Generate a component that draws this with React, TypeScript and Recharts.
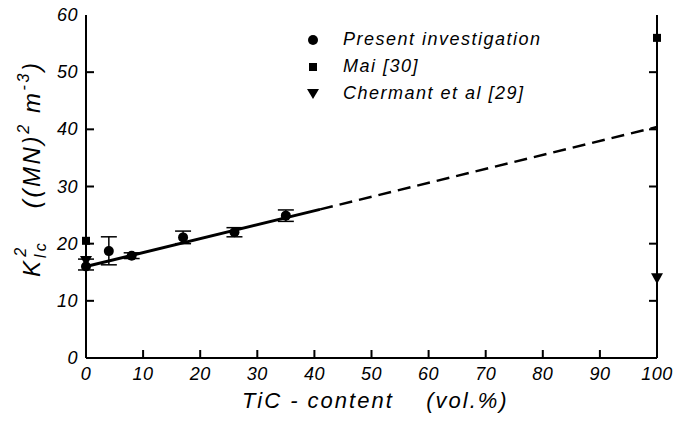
import React from "react";
import {
  ComposedChart,
  Scatter,
  Line,
  XAxis,
  YAxis,
  ErrorBar,
  ReferenceLine,
} from "recharts";

// TiC content (vol.%) and K_Ic^2 values
const presentX = [0, 4, 8, 17, 26, 35];
const presentY = [16.0, 18.7, 17.9, 21.1, 22.0, 24.9];
const presentErr = [
  [0.6, 1.3],
  [2.4, 2.5],
  [0.5, 0.5],
  [1.1, 1.1],
  [0.8, 0.8],
  [1.0, 1.0],
];
const maiX = [0, 100];
const maiY = [20.5, 56];
const chermantX = [0, 100];
const chermantY = [17.0, 14];

// fitted line: solid over the measured range, dashed extrapolation
const fitSolidX = [0, 41];
const fitSolidY = [16.0, 26.0];
const fitDashX = [41, 100];
const fitDashY = [26.0, 40.4];

const xTicks = [0, 10, 20, 30, 40, 50, 60, 70, 80, 90, 100];
const yTicks = [0, 10, 20, 30, 40, 50, 60];

const legendItems = ["Present investigation", "Mai [30]", "Chermant et al [29]"];

const present = presentX.map((x, i) => ({ x, y: presentY[i], err: presentErr[i] }));
const mai = maiX.map((x, i) => ({ x, y: maiY[i] }));
const chermant = chermantX.map((x, i) => ({ x, y: chermantY[i] }));
const fitSolid = fitSolidX.map((x, i) => ({ x, y: fitSolidY[i] }));
const fitDash = fitDashX.map((x, i) => ({ x, y: fitDashY[i] }));

// inner tick positions on the frame (end ticks coincide with the corners)
const bottomMarks = xTicks.slice(1, -1).map((t) => ({ x: t, y: 0 }));
const leftMarks = yTicks.slice(1, -1).map((t) => ({ x: 0, y: t }));
const rightMarks = yTicks.slice(1, -1).map((t) => ({ x: 100, y: t }));

const FONT = "'Liberation Sans', Arial, sans-serif";
const INK = "#000";
const axisLine = { stroke: INK, strokeWidth: 2 };
const TICK_LEN = 8;

const XTick = (props: any) => {
  const { x, y, payload } = props;
  return (
    <text
      x={x}
      y={y + 22}
      textAnchor="middle"
      fontSize={18}
      fontStyle="italic"
      fontFamily={FONT}
      letterSpacing={0.5}
      fill={INK}
    >
      {payload.value}
    </text>
  );
};

const YTick = (props: any) => {
  const { x, y, payload } = props;
  return (
    <text
      x={x - 8}
      y={y + 6}
      textAnchor="end"
      fontSize={18}
      fontStyle="italic"
      fontFamily={FONT}
      letterSpacing={0.5}
      fill={INK}
    >
      {payload.value}
    </text>
  );
};

// tick marks pointing into the plot, drawn as 2px filled rects
const UpMark = (p: any) => (
  <rect x={p.cx - 1} y={p.cy - TICK_LEN} width={2} height={TICK_LEN} fill={INK} />
);
const RightMark = (p: any) => (
  <rect x={p.cx} y={p.cy - 1} width={TICK_LEN} height={2} fill={INK} />
);
const LeftMark = (p: any) => (
  <rect x={p.cx - TICK_LEN} y={p.cy - 1} width={TICK_LEN} height={2} fill={INK} />
);

const Triangle = (props: any) => {
  const { cx, cy } = props;
  const s = 6;
  return (
    <path
      d={`M${cx - s},${cy - s * 0.8} L${cx + s},${cy - s * 0.8} L${cx},${cy + s} Z`}
      fill={INK}
    />
  );
};

const Square = (props: any) => {
  const { cx, cy } = props;
  return <rect x={cx - 4} y={cy - 4} width={8} height={8} fill={INK} />;
};

const Dot = (props: any) => {
  const { cx, cy } = props;
  return <circle cx={cx} cy={cy} r={5} fill={INK} />;
};

const YLabel = () => (
  <text
    transform="translate(40,277) rotate(-90)"
    textAnchor="start"
    fontSize={24}
    fontStyle="italic"
    fontFamily={FONT}
    letterSpacing={2.6}
    fill={INK}
  >
    <tspan>K</tspan>
    <tspan fontSize={16} dy={6}>Ic</tspan>
    <tspan fontSize={16} dx={-16} dy={-20}>2</tspan>
    <tspan dy={14} xmlSpace="preserve">{"    ((MN)"}</tspan>
    <tspan fontSize={16} dy={-11}>2</tspan>
    <tspan dy={11} xmlSpace="preserve">{" m"}</tspan>
    <tspan fontSize={16} dy={-11}>-3</tspan>
    <tspan dy={11}>)</tspan>
  </text>
);

const markers = [
  <circle key="c" cx={8} cy={8} r={5} fill={INK} />,
  <rect key="s" x={4} y={4} width={8} height={8} fill={INK} />,
  <path key="t" d="M2,3 L14,3 L8,13 Z" fill={INK} />,
];

export default function App() {
  return (
    <div style={{ position: "absolute", left: 0, top: 0, width: 675, height: 421, background: "#fff" }}>
      <ComposedChart
        width={675}
        height={421}
        margin={{ top: 15, right: 18, bottom: 13, left: 36 }}
      >
        <XAxis
          xAxisId="b"
          type="number"
          dataKey="x"
          domain={[0, 100]}
          ticks={xTicks}
          height={50}
          axisLine={axisLine}
          tickLine={false}
          tickSize={0}
          tickMargin={0}
          tick={<XTick />}
          interval={0}
        />
        <XAxis
          xAxisId="t"
          orientation="top"
          type="number"
          dataKey="x"
          domain={[0, 100]}
          height={0}
          axisLine={axisLine}
          tickLine={false}
          tick={false}
        />
        <YAxis
          yAxisId="l"
          type="number"
          dataKey="y"
          domain={[0, 60]}
          ticks={yTicks}
          width={50}
          axisLine={axisLine}
          tickLine={false}
          tickSize={0}
          tickMargin={0}
          tick={<YTick />}
          interval={0}
          label={<YLabel />}
        />

        {/* right-hand frame line */}
        <ReferenceLine xAxisId="b" yAxisId="l" x={100} stroke={INK} strokeWidth={2} />

        <Line
          xAxisId="b"
          yAxisId="l"
          data={fitSolid}
          dataKey="y"
          stroke={INK}
          strokeWidth={3}
          dot={false}
          isAnimationActive={false}
        />
        <Line
          xAxisId="b"
          yAxisId="l"
          data={fitDash}
          dataKey="y"
          stroke={INK}
          strokeWidth={2.5}
          strokeDasharray="13 7"
          dot={false}
          isAnimationActive={false}
        />
        <Scatter
          xAxisId="b"
          yAxisId="l"
          data={present}
          shape={<Dot />}
          isAnimationActive={false}
        >
          <ErrorBar dataKey="err" direction="y" width={8} stroke={INK} strokeWidth={1.5} />
        </Scatter>
        <Scatter
          xAxisId="b"
          yAxisId="l"
          data={mai}
          shape={<Square />}
          isAnimationActive={false}
        />
        <Scatter
          xAxisId="b"
          yAxisId="l"
          data={chermant}
          shape={<Triangle />}
          isAnimationActive={false}
        />
        <Scatter xAxisId="b" yAxisId="l" data={bottomMarks} shape={<UpMark />} isAnimationActive={false} />
        <Scatter xAxisId="b" yAxisId="l" data={leftMarks} shape={<RightMark />} isAnimationActive={false} />
        <Scatter xAxisId="b" yAxisId="l" data={rightMarks} shape={<LeftMark />} isAnimationActive={false} />
      </ComposedChart>

      <div
        style={{
          position: "absolute",
          left: 305,
          top: 26,
          fontFamily: FONT,
          fontStyle: "italic",
          fontSize: 18,
          letterSpacing: 1.5,
          color: INK,
          lineHeight: "27px",
        }}
      >
        {legendItems.map((name, i) => (
          <div key={name} style={{ display: "flex", alignItems: "center", whiteSpace: "nowrap" }}>
            <svg width={16} height={16} style={{ marginRight: 22 }}>
              {markers[i]}
            </svg>
            <span>{name}</span>
          </div>
        ))}
      </div>

      <div
        style={{
          position: "absolute",
          left: 242,
          top: 388,
          fontFamily: FONT,
          fontStyle: "italic",
          fontSize: 22,
          letterSpacing: 2,
          color: INK,
          whiteSpace: "pre",
        }}
      >
        {"TiC - content    (vol.%)"}
      </div>
    </div>
  );
}
